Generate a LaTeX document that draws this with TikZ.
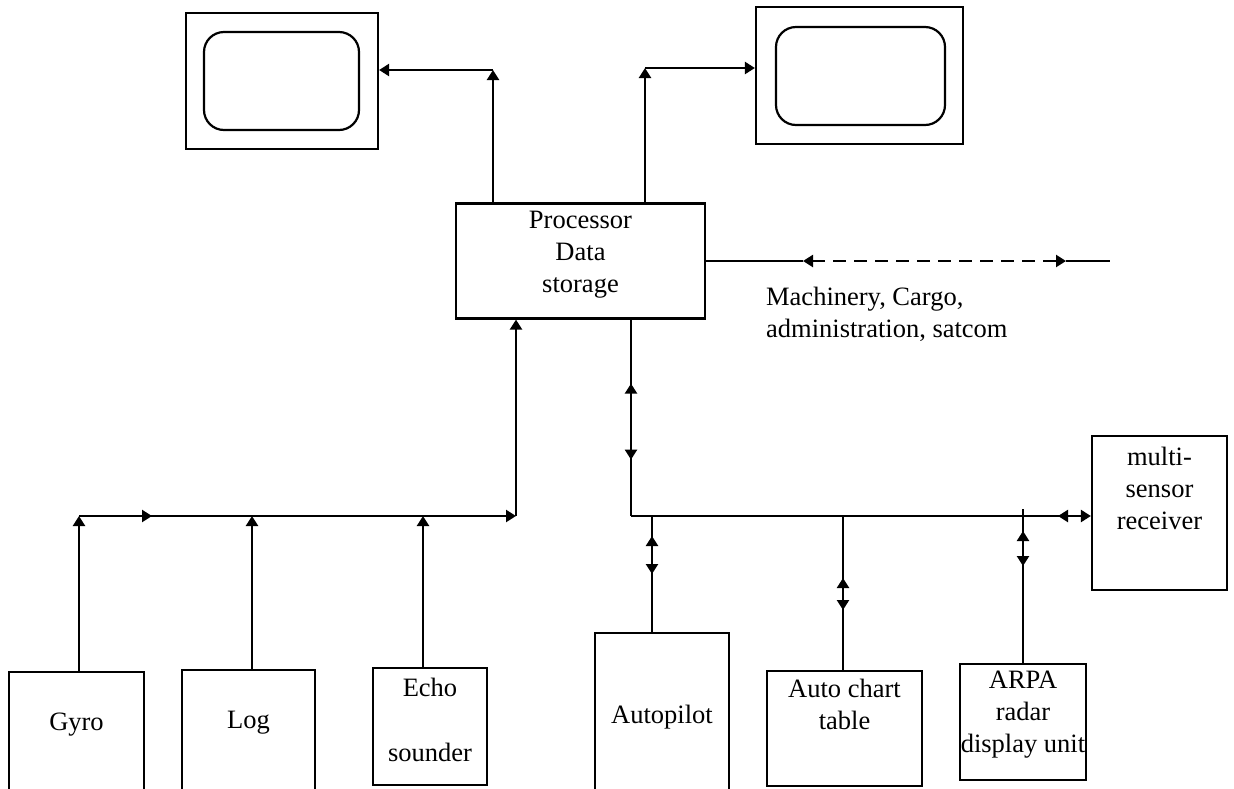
\documentclass[tikz,border=0pt]{standalone}
\usepackage{fontspec}
\setmainfont{Liberation Serif}
\usetikzlibrary{arrows.meta,decorations.markings}
\begin{document}
\begin{tikzpicture}[x=1pt,y=-1pt,
  line width=2.3pt,
  tipshape/.tip={Triangle[length=10pt,width=12pt]},
  box/.style={draw, rectangle, inner sep=0pt, line width=2.2pt},
  screen/.style={draw, rectangle, rounded corners=20pt, inner sep=0pt, line width=2.2pt},
  txt/.style={align=center, inner sep=0pt, font=\fontsize{26.5}{32}\selectfont},
  arr/.style={-tipshape},
  dbl/.style={tipshape-tipshape},
  busdash/.style={dash pattern=on 13pt off 8pt},
  twoway/.style 2 args={postaction={decorate}, decoration={markings,
      mark=at position #1 with {\arrowreversed{tipshape}},
      mark=at position #2 with {\arrow{tipshape}}}},
  backtip/.style={postaction={decorate}, decoration={markings,
      mark=at position #1 with {\arrowreversed{tipshape}}}},
  fwdtip/.style={postaction={decorate}, decoration={markings,
      mark=at position #1 with {\arrow{tipshape}}}},
]
\useasboundingbox (0,0) rectangle (1234,788);

% display monitors
\node[box, minimum width=192pt, minimum height=136pt] (monL) at (282,81) {};
\node[screen, minimum width=155pt, minimum height=98pt] (scrL) at (281.5,81) {};
\node[box, minimum width=207pt, minimum height=137pt] (monR) at (859.5,75.5) {};
\node[screen, minimum width=169pt, minimum height=98pt] (scrR) at (860.5,76) {};

% central processor
\node[box, minimum width=249pt, minimum height=115pt] (proc) at (580.5,261) {};
\node[txt] (procT) at (580.5,255) {Processor\\Data\\storage};

% external link
\node[txt, align=left, anchor=west] (machT) at (765,314) {Machinery, Cargo,\\administration, satcom};

% sensors and consumers
\node[box, minimum width=135pt, minimum height=121pt] (gyro) at (76.5,732.5) {};
\node[txt] (gyroT) at (76.5,725) {Gyro};
\node[box, minimum width=133pt, minimum height=123pt] (log) at (248.5,731.5) {};
\node[txt] (logT) at (248.5,723) {Log};
\node[box, minimum width=114pt, minimum height=117pt] (echo) at (430,726.5) {};
\node[txt] (echoT) at (430,720) {Echo\\[33pt]sounder};
\node[box, minimum width=134pt, minimum height=160pt] (auto) at (662,713) {};
\node[txt] (autoT) at (662,717) {Autopilot};
\node[box, minimum width=155pt, minimum height=115pt] (chart) at (844.5,728.5) {};
\node[txt] (chartT) at (844.5,704) {Auto chart\\table};
\node[box, minimum width=126pt, minimum height=116pt] (arpa) at (1023,722) {};
\node[txt] (arpaT) at (1023,715) {ARPA\\radar\\display unit};
\node[box, minimum width=135pt, minimum height=154pt] (multi) at (1159.5,513) {};
\node[txt] (multiT) at (1159.5,488) {multi-\\sensor\\receiver};

% junction points
\coordinate (cL) at (493,70);
\coordinate (cR) at (645,68);
\coordinate (dA) at (803,261);
\coordinate (dD) at (1066,261);
\coordinate (ext) at (1110,261);
\coordinate (gJ) at (79,516);
\coordinate (lJ) at (252,516);
\coordinate (eJ) at (423,516);
\coordinate (bJ) at (516,516);
\coordinate (rJ) at (631,516);
\coordinate (aJ) at (652,516);
\coordinate (tJ) at (843,516);
\coordinate (pJ) at (1023,509);

% processor to monitors
\draw[arr] (proc.north -| cL) -- (cL);
\draw[arr] (cL) -- (monL.east |- cL);
\draw[arr] (proc.north -| cR) -- (cR);
\draw[arr] (cR) -- (monR.west |- cR);

% link to machinery, cargo, administration, satcom
\draw (proc.east) -- (dA);
\draw[dbl, busdash] (dA) -- (dD);
\draw (dD) -- (ext);

% sensor bus into the processor
\draw[arr] (gyro.north -| gJ) -- (gJ);
\draw[arr] (log.north -| lJ) -- (lJ);
\draw[arr] (echo.north -| eJ) -- (eJ);
\draw[arr, fwdtip=73pt] (gJ) -- (bJ);
\draw[arr] (bJ) -- (proc.south -| bJ);

% two-way bus out of the processor
\draw[twoway={64pt}{140pt}] (proc.south -| rJ) -- (rJ);
\draw[arr, backtip=427pt] (rJ) -- (multi.west |- rJ);
\draw[twoway={20pt}{58pt}] (aJ) -- (auto.north -| aJ);
\draw[twoway={62pt}{94pt}] (tJ) -- (chart.north -| tJ);
\draw[twoway={22pt}{57pt}] (pJ) -- (arpa.north -| pJ);
\end{tikzpicture}
\end{document}
